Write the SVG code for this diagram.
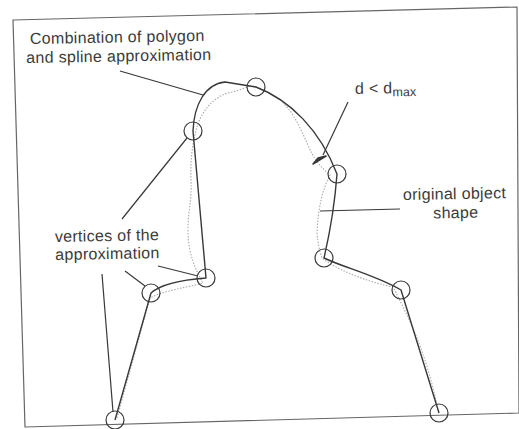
<svg xmlns="http://www.w3.org/2000/svg" width="519" height="429" viewBox="0 0 519 429">
<style>
.lbl{font-family:"Liberation Sans",Arial,Helvetica,sans-serif;font-size:16px;fill:#3a3a3a;letter-spacing:0.3px}
.sub{font-size:12.5px;letter-spacing:0}
.approx{fill:none;stroke:#383838;stroke-width:1.4;stroke-linejoin:round}
.orig{fill:none;stroke:#aaa;stroke-width:1.1;stroke-dasharray:1.5 1.5}
.vtx{fill:none;stroke:#383838;stroke-width:1.2}
.lead{stroke:#383838;stroke-width:1.2;fill:none}
.frame{fill:#fff;stroke:#666;stroke-width:1.2}
</style>
<rect width="519" height="429" fill="#fff"/>
<polygon class="frame" points="13,20 517,7 519,413 25,427"/>

<g id="original-shape">
<path class="orig" d="M117,418 L150,298 C165,290 185,288 203,283 C196,270 188,255 188,230 C188,210 192,200 191,180 C190,160 193,140 197,127 C202,110 215,95 232,92 C240,90 245,88 250,86 C262,88 268,92 280,100 C292,110 300,127 307,143 C312,155 318,165 330,175 C322,190 318,210 317,233 C318,245 320,252 322,258 C335,268 360,280 393,287 C410,320 425,350 437,405"/>
</g>

<g id="approximation">
<path class="approx" d="M115,420 L151,293 C160,285 180,280 206,278 L193,131 C194,105 205,84 225,82 L256,87 C290,100 320,130 337,174 Q334,215 324,258 C345,268 375,275 401,290 L439,413"/>
</g>

<g id="v1"><circle class="vtx" cx="115" cy="420" r="9"/></g>
<g id="v2"><circle class="vtx" cx="151" cy="293" r="9"/></g>
<g id="v3"><circle class="vtx" cx="206" cy="278" r="9"/></g>
<g id="v4"><circle class="vtx" cx="193" cy="131" r="9"/></g>
<g id="v5"><circle class="vtx" cx="256" cy="87" r="9"/></g>
<g id="v6"><circle class="vtx" cx="337" cy="174" r="9"/></g>
<g id="v7"><circle class="vtx" cx="324" cy="258" r="9"/></g>
<g id="v8"><circle class="vtx" cx="401" cy="290" r="9"/></g>
<g id="v9"><circle class="vtx" cx="439" cy="413" r="9"/></g>

<g id="connectors">
<line class="lead" x1="120" y1="71" x2="203" y2="95"/>
<line class="lead" x1="348" y1="102" x2="323" y2="155"/>
<path d="M326,156 L313,164 L318,158 Z" fill="#383838" stroke="#383838" stroke-width="1.5" stroke-linejoin="round"/>
<line class="lead" x1="320" y1="211" x2="400" y2="209"/>
<line class="lead" x1="122" y1="219" x2="187" y2="138"/>
<line class="lead" x1="158" y1="266" x2="198" y2="276"/>
<line class="lead" x1="125" y1="271" x2="145" y2="286"/>
<line class="lead" x1="102" y1="274" x2="113" y2="412"/>
</g>

<g id="label-combination" transform="rotate(-1 30 44)">
<text class="lbl" x="30" y="44">Combination of polygon</text>
<text class="lbl" x="26" y="63">and spline approximation</text>
</g>
<g id="label-d" transform="rotate(-1 355 94)">
<text class="lbl" x="355" y="94">d &lt; d<tspan class="sub" dy="3">max</tspan></text>
</g>
<g id="label-original" transform="rotate(-1 403 200)">
<text class="lbl" x="403" y="200">original object</text>
<text class="lbl" x="433" y="219">shape</text>
</g>
<g id="label-vertices" transform="rotate(-1 55 242)">
<text class="lbl" x="55" y="242">vertices of the</text>
<text class="lbl" x="55" y="260">approximation</text>
</g>
</svg>
